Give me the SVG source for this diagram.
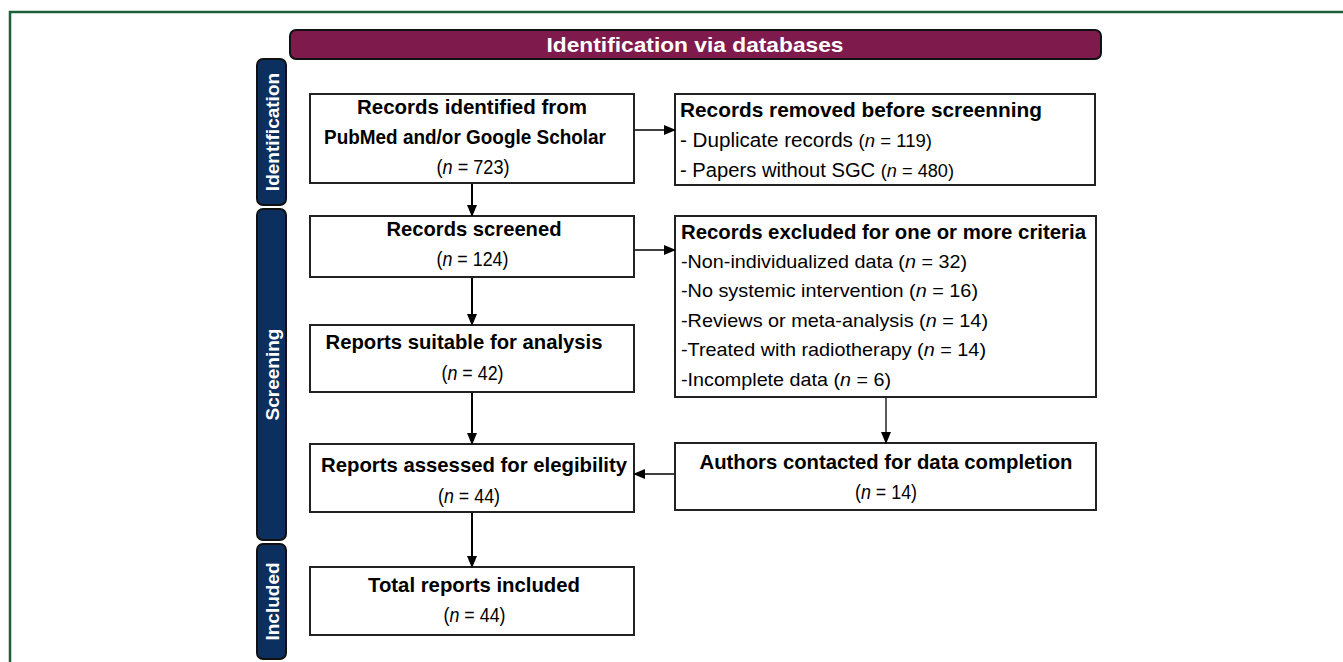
<svg xmlns="http://www.w3.org/2000/svg" width="1343" height="662" viewBox="0 0 1343 662">
<style>
.bx{fill:#fff;stroke:#222;stroke-width:2}
.side{fill:#0b2f5f;stroke:#111;stroke-width:2}
.st{font-family:"Liberation Sans",Arial,sans-serif;font-weight:bold;font-size:19px;fill:#fff;text-anchor:middle}
.h{font-family:"Liberation Sans",Arial,sans-serif;font-weight:bold;font-size:21px;fill:#000}
.r{font-family:"Liberation Sans",Arial,sans-serif;font-size:20px;fill:#000}
.l{font-size:19px}
.s{font-size:18px}
.c{text-anchor:middle}
.ln{stroke:#000;stroke-width:2;fill:none}
.thin{stroke:#000;stroke-width:1.3;fill:none}
</style>
<defs>
<marker id="ah" markerUnits="userSpaceOnUse" markerWidth="12" markerHeight="10" refX="11" refY="5" orient="auto">
<path d="M0,0 L12,5 L0,10 Z" fill="#000"/>
</marker>
</defs>
<rect x="10" y="12" width="1400" height="700" fill="none" stroke="#1d5e3b" stroke-width="2.5"/>
<g id="title">
<rect x="290" y="30" width="811" height="29" rx="6" fill="#7f1a4d" stroke="#111" stroke-width="2"/>
<text x="695" y="52" class="st" style="font-size:21px" textLength="297" lengthAdjust="spacingAndGlyphs">Identification via databases</text>
</g>
<g id="side-identification">
<rect x="257" y="59" width="29" height="146" rx="6" class="side"/>
<text x="271.5" y="139" class="st" transform="rotate(-90 271.5 132)">Identification</text>
</g>
<g id="side-screening">
<rect x="257" y="209" width="29" height="331" rx="6" class="side"/>
<text x="271.5" y="381.5" class="st" transform="rotate(-90 271.5 374.5)">Screening</text>
</g>
<g id="side-included">
<rect x="257" y="544" width="29" height="115" rx="6" class="side"/>
<text x="271.5" y="608.5" class="st" transform="rotate(-90 271.5 601.5)">Included</text>
</g>
<g id="records-identified">
<rect x="310" y="94" width="324" height="89" class="bx"/>
<text x="472" y="114" class="h c" textLength="230" lengthAdjust="spacingAndGlyphs">Records identified from</text>
<text x="465" y="144" class="h c" textLength="282" lengthAdjust="spacingAndGlyphs">PubMed and/or Google Scholar</text>
<text x="473" y="174" class="r c" textLength="73" lengthAdjust="spacingAndGlyphs">(<tspan font-style="italic">n</tspan> = 723)</text>
</g>
<g id="records-removed">
<rect x="675" y="94" width="420" height="91" class="bx"/>
<text x="680" y="117" class="h" textLength="362" lengthAdjust="spacingAndGlyphs">Records removed before screenning</text>
<text x="680" y="147" class="r" textLength="252" lengthAdjust="spacingAndGlyphs">- Duplicate records <tspan class="s">(<tspan font-style="italic">n</tspan> = 119)</tspan></text>
<text x="680" y="177" class="r" textLength="274" lengthAdjust="spacingAndGlyphs">- Papers without SGC <tspan class="s">(<tspan font-style="italic">n</tspan> = 480)</tspan></text>
</g>
<g id="records-screened">
<rect x="310" y="216" width="324" height="61" class="bx"/>
<text x="474" y="236" class="h c" textLength="175" lengthAdjust="spacingAndGlyphs">Records screened</text>
<text x="472.5" y="266" class="r c" textLength="72" lengthAdjust="spacingAndGlyphs">(<tspan font-style="italic">n</tspan> = 124)</text>
</g>
<g id="records-excluded">
<rect x="675" y="216" width="421" height="181" class="bx"/>
<text x="681" y="239" class="h" textLength="405" lengthAdjust="spacingAndGlyphs">Records excluded for one or more criteria</text>
<text x="681" y="268" class="r l" textLength="286" lengthAdjust="spacingAndGlyphs">-Non-individualized data (<tspan font-style="italic">n</tspan> = 32)</text>
<text x="681" y="297" class="r l" textLength="297" lengthAdjust="spacingAndGlyphs">-No systemic intervention (<tspan font-style="italic">n</tspan> = 16)</text>
<text x="681" y="327" class="r l" textLength="307" lengthAdjust="spacingAndGlyphs">-Reviews or meta-analysis (<tspan font-style="italic">n</tspan> = 14)</text>
<text x="681" y="356" class="r l" textLength="305" lengthAdjust="spacingAndGlyphs">-Treated with radiotherapy (<tspan font-style="italic">n</tspan> = 14)</text>
<text x="681" y="386" class="r l" textLength="210" lengthAdjust="spacingAndGlyphs">-Incomplete data (<tspan font-style="italic">n</tspan> = 6)</text>
</g>
<g id="reports-suitable">
<rect x="310" y="325" width="324" height="67" class="bx"/>
<text x="464" y="349" class="h c" textLength="277" lengthAdjust="spacingAndGlyphs">Reports suitable for analysis</text>
<text x="472.5" y="380" class="r c" textLength="62" lengthAdjust="spacingAndGlyphs">(<tspan font-style="italic">n</tspan> = 42)</text>
</g>
<g id="reports-assessed">
<rect x="310" y="444" width="324" height="68" class="bx"/>
<text x="474" y="472" class="h c" textLength="306" lengthAdjust="spacingAndGlyphs">Reports assessed for elegibility</text>
<text x="469" y="503" class="r c" textLength="62" lengthAdjust="spacingAndGlyphs">(<tspan font-style="italic">n</tspan> = 44)</text>
</g>
<g id="authors-contacted">
<rect x="675" y="443" width="421" height="67" class="bx"/>
<text x="886" y="469" class="h c" textLength="373" lengthAdjust="spacingAndGlyphs">Authors contacted for data completion</text>
<text x="886" y="499" class="r c" textLength="62" lengthAdjust="spacingAndGlyphs">(<tspan font-style="italic">n</tspan> = 14)</text>
</g>
<g id="total-included">
<rect x="310" y="567" width="324" height="68" class="bx"/>
<text x="474" y="592" class="h c" textLength="212" lengthAdjust="spacingAndGlyphs">Total reports included</text>
<text x="474.5" y="622" class="r c" textLength="62" lengthAdjust="spacingAndGlyphs">(<tspan font-style="italic">n</tspan> = 44)</text>
</g>
<g id="connectors">
<line x1="472" y1="184" x2="472" y2="216" class="ln" marker-end="url(#ah)"/>
<line x1="635" y1="130" x2="675" y2="130" class="thin" marker-end="url(#ah)"/>
<line x1="472" y1="278" x2="472" y2="325" class="ln" marker-end="url(#ah)"/>
<line x1="635" y1="250" x2="675" y2="250" class="thin" marker-end="url(#ah)"/>
<line x1="472" y1="393" x2="472" y2="444" class="ln" marker-end="url(#ah)"/>
<line x1="886" y1="398" x2="886" y2="443" class="thin" marker-end="url(#ah)"/>
<line x1="674" y1="474" x2="634" y2="474" class="thin" marker-end="url(#ah)"/>
<line x1="472" y1="513" x2="472" y2="567" class="ln" marker-end="url(#ah)"/>
</g>
</svg>
